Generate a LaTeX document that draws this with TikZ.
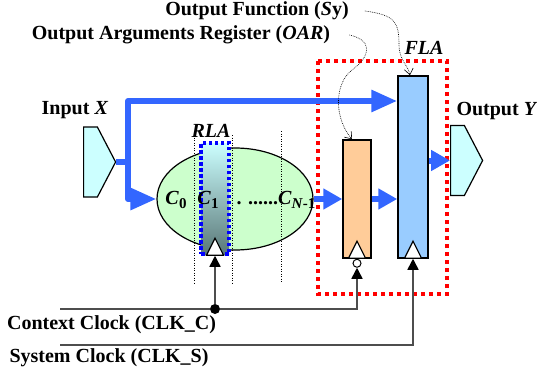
\documentclass[tikz,border=0pt]{standalone}
\usepackage{fontspec}
\setmainfont{Liberation Serif}
\usetikzlibrary{calc}
\usetikzlibrary{positioning}
\usetikzlibrary{shapes.geometric, shapes.symbols}
\usetikzlibrary{arrows.meta}

\definecolor{busblue}{HTML}{3366FF}
\definecolor{portcyan}{HTML}{CCFFFF}
\definecolor{rlagreen}{HTML}{CCFFCC}
\definecolor{oarorange}{HTML}{FFCC99}
\definecolor{flablue}{HTML}{99CCFF}
\definecolor{slicegray}{HTML}{5A7878}
\definecolor{clkgray}{HTML}{4D4D4D}

\newcommand{\ctxsub}[1]{\raisebox{-4pt}{\fontsize{15}{15}\selectfont #1}}

\begin{document}
\begin{tikzpicture}[x=1pt, y=-1pt, >=Stealth]

  % ---------- Styling ----------
  \tikzset{
    lbl/.style={font=\fontsize{20}{24}\selectfont\bfseries, inner sep=0pt},
    port/.style={signal, signal to=east, signal pointer angle=125, draw=black, line width=1.2pt, fill=portcyan, minimum width=32pt, minimum height=70pt, inner sep=0pt},
    unit/.style={draw=black, line width=1.5pt, inner sep=0pt},
    slicebox/.style={draw=blue, line width=3.5pt, dash pattern=on 3.5pt off 2.5pt, top color=portcyan, bottom color=slicegray, minimum width=28pt, minimum height=111pt, inner sep=0pt},
    bus/.style={draw=busblue, line width=6pt, line join=round},
    busarrow/.style={bus, -{Triangle[length=26pt, width=21pt]}},
    shortbus/.style={bus, -{Triangle[length=19pt, width=20pt]}},
    clktri/.style={isosceles triangle, shape border rotate=90, isosceles triangle stretches, minimum width=17pt, minimum height=17pt, inner sep=0pt, draw=black, line width=1.2pt, fill=white},
    clkline/.style={draw=clkgray, line width=1.5pt},
    clkarrow/.style={clkline, -{Triangle[length=11pt, width=11pt, color=black]}},
    dot/.style={circle, fill=black, minimum size=10pt, inner sep=0pt},
    bubble/.style={circle, draw=black, line width=1pt, fill=white, minimum size=8pt, inner sep=0pt},
    fence/.style={draw=red, line width=4pt, dash pattern=on 4pt off 4pt},
    guide/.style={draw=black, line width=0.7pt, dash pattern=on 1pt off 1.5pt},
    leader/.style={draw=black, line width=0.6pt, dash pattern=on 0.8pt off 1pt, -{Straight Barb[length=6pt, width=9pt]}}
  }

  \useasboundingbox (0,0) rectangle (537,377);

  % ---------- Output block (dotted frame) ----------
  \draw[fence] (318,61) rectangle (447,294);

  % ---------- Blocks ----------
  \node[port, anchor=west] (inX) at (83,162) {};
  \node[port, anchor=west] (outY) at (450,160.5) {};
  \node[unit, ellipse, line width=1.2pt, fill=rlagreen, minimum width=156pt, minimum height=102pt] (rla) at (235,199) {};
  \node[unit, fill=oarorange, minimum width=28pt, minimum height=118pt] (oar) at (357,199) {};
  \node[unit, fill=flablue, minimum width=30pt, minimum height=182pt] (fla) at (413,167) {};

  % context boundaries
  \foreach \gx/\gtop in {194/135, 232/135, 281/131}
    \draw[guide] (\gx,\gtop) -- (\gx,283);

  \node[slicebox] (slice) at (215,198.5) {};

  % ---------- Clock inputs ----------
  \node[clktri, anchor=south] (clkrla) at (slice.south) {};
  \node[clktri, anchor=south] (clkoar) at (oar.south) {};
  \node[clktri, anchor=south] (clkfla) at (fla.south) {};
  \node[bubble, below=0pt of clkoar] (bub) {};

  \coordinate (ctxW) at (60,309);
  \coordinate (sysW) at (60,345);
  \node[dot] (ctxdot) at (clkrla.south |- ctxW) {};
  \draw[clkline] (ctxW) -- (ctxdot);
  \draw[clkarrow] (ctxdot) -- (clkrla.south);
  \draw[clkarrow] (ctxdot) -| (bub.south);
  \draw[clkarrow] (sysW) -| (clkfla.south);

  % ---------- Data buses ----------
  \coordinate (split) at (128,162);
  \coordinate (bend) at (128,101);
  \draw[bus] (inX.east) -- (split);
  \draw[busarrow] (split) -- (bend) -- (bend -| fla.west);
  \draw[busarrow] (split) |- (rla.west);
  \draw[shortbus] (rla.east) -- (oar.west);
  \draw[shortbus] (oar.east) -- (oar.east -| fla.west);
  \draw[shortbus] (fla.east |- outY.west) -- (outY.west);

  % ---------- Labels ----------
  \node[lbl] (oflbl) at (257,11) {Output Function (\textit{S}y)};
  \node[lbl] (oarlbl) at (181,35) {Output Arguments Register (\textit{OAR})};
  \node[lbl] (flalbl) at (424,48) {\textit{FLA}};
  \node[lbl] (rlalbl) at (211,131) {\textit{RLA}};
  \node[lbl] (inlbl) at (75,110) {Input \textit{X}};
  \node[lbl] (outlbl) at (497,111) {Output \textit{Y}};
  \node[lbl] (c0) at (176,200) {\textit{C}\ctxsub{0}};
  \node[lbl] (c1) at (208,200) {\textit{C}\ctxsub{1}};
  \node[lbl] (cn) at (276,200) {. ......\textit{C}\ctxsub{\textit{N}-1}};
  \node[lbl] (ctxlbl) at (111.5,325) {Context Clock (CLK\_C)};
  \node[lbl] (syslbl) at (109,358) {System Clock (CLK\_S)};

  % ---------- Leaders ----------
  \draw[leader] ([xshift=16pt]oflbl.east) .. controls (395,15) and (399,22) .. (399,45)
    .. controls (399,60) and (408,65) .. ([xshift=-3pt]fla.north);
  \draw[leader] ([xshift=19pt]oarlbl.east) .. controls (372,40) and (372,55) .. (352,70)
    .. controls (334,84) and (334,118) .. ([xshift=-5pt]oar.north);

\end{tikzpicture}
\end{document}
